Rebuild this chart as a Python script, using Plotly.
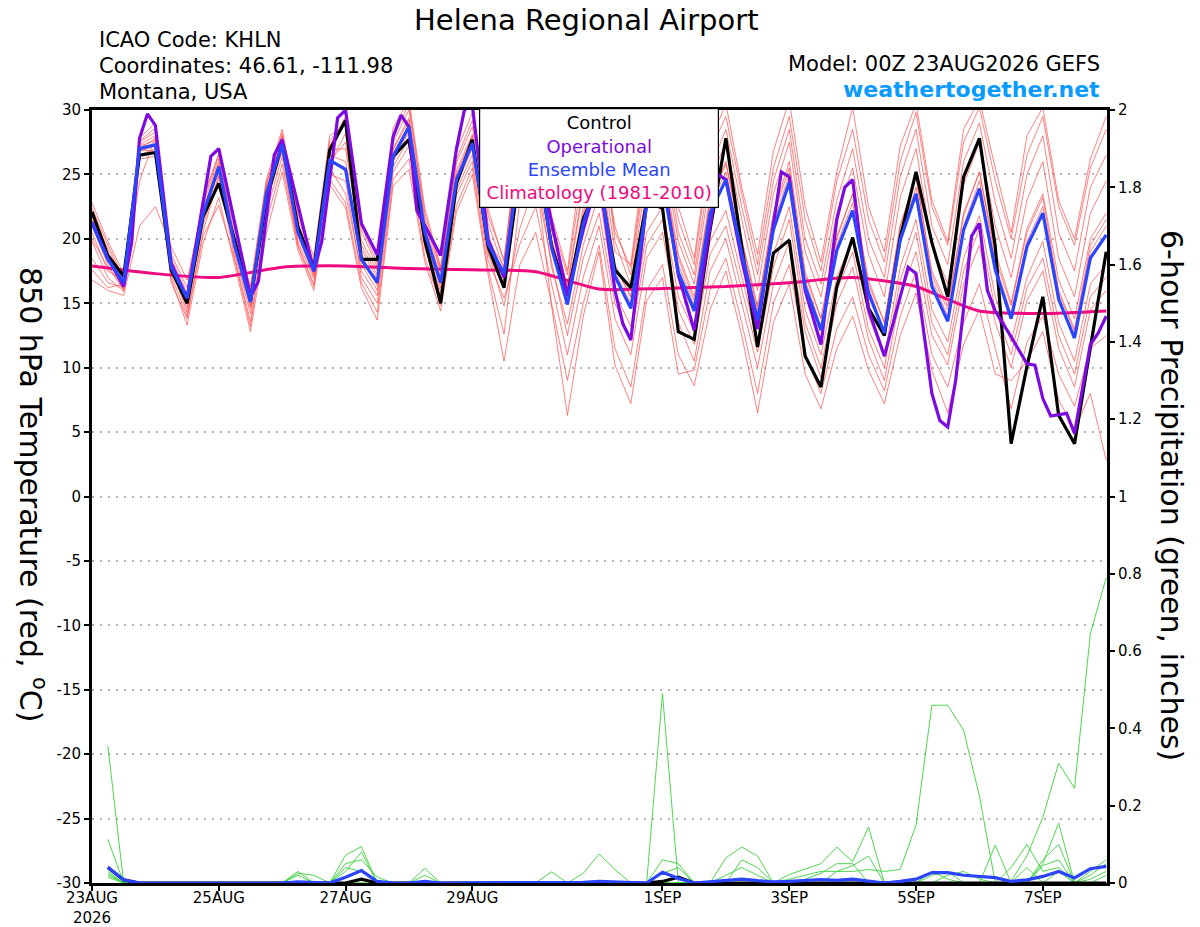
import plotly.graph_objects as go
import pandas as pd

# ---------------- data ----------------
start_time = "2026-08-23 00:00"
step_hours = [0, 6, 12, 18, 24, 30, 36, 42, 48, 54, 60, 66, 72, 78, 84, 90, 96, 102, 108, 114,
              120, 126, 132, 138, 144, 150, 156, 162, 168, 174, 180, 186, 192, 198, 204, 210,
              216, 222, 228, 234, 240, 246, 252, 258, 264, 270, 276, 282, 288, 294, 300, 306,
              312, 318, 324, 330, 336, 342, 348, 354, 360, 366, 372, 378, 384]

control_temp = [22.1, 18.7, 17.1, 26.5, 26.7, 17.6, 15.0, 21.7, 24.3, 19.9,
                15.2, 23.0, 27.4, 20.9, 17.7, 26.9, 29.2, 18.4, 18.4, 26.4,
                27.7, 19.9, 15.0, 24.3, 27.7, 19.4, 16.2, 25.5, 27.0, 19.4,
                15.6, 21.5, 24.5, 17.6, 16.2, 22.8, 22.4, 12.8, 12.2, 20.7,
                27.8, 19.4, 11.6, 18.9, 19.9, 10.9, 8.5, 16.3, 20.1, 14.6,
                12.5, 20.1, 25.2, 19.7, 15.5, 24.8, 27.8, 19.4, 4.1, 10.1,
                15.5, 6.3, 4.1, 11.4, 19.0]

mean_temp = [21.2, 18.4, 16.6, 27.0, 27.3, 17.8, 15.4, 21.9, 25.6, 19.5,
             15.1, 23.5, 27.3, 20.5, 17.5, 26.1, 25.4, 18.4, 16.6, 26.4,
             28.7, 20.5, 16.6, 24.6, 27.4, 19.6, 17.3, 26.0, 27.5, 19.3,
             14.9, 21.2, 25.0, 17.1, 14.6, 22.6, 24.5, 17.4, 14.4, 22.0,
             24.6, 18.9, 13.7, 20.7, 24.4, 16.3, 12.9, 19.1, 22.2, 15.8,
             12.7, 19.9, 23.5, 16.3, 13.6, 20.7, 23.9, 17.6, 13.8, 19.4,
             22.0, 15.3, 12.3, 18.5, 20.3]

op_hours = [0, 6, 12, 15, 18, 21, 24, 30, 36, 45, 48, 60, 63, 69, 72, 84, 87, 93, 96, 102,
            108, 114, 117, 120, 123, 132, 138, 141, 144, 150, 156, 162, 168, 174, 180, 186,
            192, 198, 201, 204, 210, 216, 222, 228, 237, 240, 246, 252, 261, 264, 270, 276,
            282, 285, 288, 294, 300, 309, 312, 318, 321, 324, 327, 333, 336, 339, 342, 348,
            351, 354, 357, 360, 363, 369, 372, 378, 381, 384]
op_temp = [21.3, 18.5, 16.3, 19.7, 27.8, 29.7, 28.8, 18.1, 15.4, 26.4, 27.0, 15.5, 16.7, 26.5,
           27.7, 17.5, 19.8, 29.4, 30.0, 21.2, 18.75, 27.9, 29.6, 28.7, 22.2, 18.7, 27.0, 30.0,
           30.4, 19.9, 17.0, 26.5, 27.0, 21.2, 15.6, 20.7, 25.0, 16.0, 13.4, 12.15, 22.8, 25.0,
           17.2, 12.9, 25.0, 24.6, 18.4, 13.0, 25.2, 24.8, 16.0, 11.8, 21.5, 24.0, 24.6, 14.5,
           10.9, 17.8, 17.3, 8.0, 5.9, 5.4, 9.0, 20.2, 21.2, 16.0, 14.4, 12.4, 11.4, 10.3, 10.2,
           7.6, 6.25, 6.45, 4.9, 11.8, 12.7, 14.0]

clim_hours = [0, 24, 48, 72, 96, 120, 144, 168, 192, 216, 240, 264, 288, 312, 324, 336, 360, 384]
clim_temp = [17.9, 17.3, 17.0, 17.8, 17.9, 17.7, 17.6, 17.45, 16.1, 16.15, 16.3, 16.6, 17.0,
             16.3, 15.3, 14.4, 14.2, 14.4]

# ensemble members: one row per 6-hour step, one column per member
member_rows = [
    [22.8, 22.0, 21.5, 21.0, 20.5, 19.8, 18.5, 17.6, 16.8, 22.4, 20.0, 21.8],
    [19.8, 19.2, 18.6, 18.0, 17.5, 17.0, 16.6, 16.2, 16.0, 19.5, 17.8, 18.8],
    [17.3, 16.9, 16.4, 16.0, 16.8, 15.9, 16.2, 16.5, 15.6, 17.0, 16.1, 16.7],
    [27.6, 27.3, 27.0, 26.8, 27.5, 26.5, 27.2, 26.2, 21.0, 27.8, 26.9, 24.5],
    [28.6, 28.0, 27.8, 27.2, 28.3, 27.0, 27.6, 26.4, 22.5, 29.0, 26.8, 27.9],
    [18.5, 17.6, 18.0, 17.2, 18.8, 16.9, 17.4, 17.9, 19.4, 18.2, 16.6, 17.7],
    [15.8, 14.9, 15.2, 14.0, 16.2, 13.3, 15.0, 14.6, 16.8, 15.5, 13.8, 14.3],
    [22.6, 21.4, 22.2, 20.5, 22.9, 19.6, 21.8, 21.0, 22.4, 23.2, 20.2, 21.5],
    [26.2, 25.5, 25.9, 24.8, 26.5, 23.2, 25.7, 24.9, 25.1, 26.6, 22.6, 25.3],
    [20.3, 19.2, 19.8, 18.5, 20.8, 18.1, 19.6, 18.9, 20.1, 19.9, 18.4, 19.4],
    [15.8, 14.6, 15.4, 13.6, 16.3, 12.8, 15.0, 14.2, 15.6, 16.1, 13.2, 14.8],
    [24.3, 23.0, 23.8, 22.1, 24.6, 20.4, 23.6, 22.8, 24.0, 24.2, 21.3, 23.2],
    [28.2, 27.1, 27.6, 26.4, 28.5, 25.2, 27.4, 26.8, 27.9, 28.0, 25.8, 27.0],
    [21.6, 20.2, 20.9, 19.5, 21.9, 19.1, 20.6, 19.8, 21.2, 21.0, 19.4, 20.4],
    [18.2, 17.1, 17.8, 16.5, 18.6, 16.0, 17.4, 16.9, 18.0, 17.6, 16.3, 17.2],
    [27.2, 25.8, 26.9, 25.0, 28.0, 24.2, 26.5, 25.5, 27.6, 26.2, 24.6, 26.0],
    [29.5, 28.2, 27.0, 24.5, 28.8, 22.4, 26.0, 23.5, 29.0, 25.2, 22.8, 27.5],
    [20.6, 18.8, 19.5, 17.0, 21.0, 16.2, 18.4, 17.5, 19.9, 18.0, 16.6, 19.2],
    [17.8, 16.4, 17.2, 15.0, 18.1, 13.7, 16.8, 15.6, 17.5, 16.0, 14.3, 16.9],
    [27.8, 26.2, 27.0, 25.2, 28.6, 24.1, 26.6, 25.6, 27.5, 26.0, 24.6, 26.9],
    [30.5, 28.6, 29.4, 27.2, 30.8, 25.4, 28.9, 27.8, 30.0, 28.3, 26.2, 29.2],
    [22.0, 20.3, 21.2, 19.3, 22.4, 18.2, 20.7, 19.6, 21.6, 20.0, 18.6, 20.9],
    [17.6, 16.5, 17.0, 15.5, 17.8, 14.4, 16.8, 15.9, 17.4, 16.2, 14.9, 16.7],
    [26.2, 24.5, 25.3, 23.4, 26.8, 22.1, 24.8, 23.8, 25.9, 24.2, 22.6, 25.0],
    [29.2, 27.2, 28.1, 26.0, 29.8, 25.0, 27.6, 26.5, 28.7, 27.0, 25.5, 28.0],
    [21.8, 19.5, 20.4, 18.3, 22.3, 17.2, 19.8, 18.8, 21.2, 19.0, 17.6, 20.0],
    [18.4, 17.5, 16.8, 15.4, 18.2, 10.5, 17.9, 16.2, 17.6, 14.8, 12.6, 17.0],
    [28.5, 27.0, 26.2, 19.6, 29.0, 18.0, 27.5, 24.5, 28.0, 20.8, 23.0, 26.8],
    [29.8, 28.4, 27.6, 22.5, 30.2, 20.5, 28.9, 26.0, 29.2, 24.5, 25.2, 28.0],
    [21.3, 20.0, 19.5, 16.5, 21.8, 15.0, 20.6, 17.8, 20.8, 18.2, 14.8, 19.9],
    [17.2, 15.5, 15.0, 11.0, 17.5, 9.0, 16.2, 13.4, 16.4, 12.5, 6.3, 15.8],
    [25.5, 22.5, 21.8, 17.0, 27.0, 15.0, 23.8, 19.5, 24.2, 18.5, 14.0, 22.0],
    [29.0, 26.5, 25.5, 21.0, 30.5, 19.5, 27.5, 23.5, 28.0, 22.0, 19.0, 26.0],
    [20.5, 18.0, 17.4, 13.8, 19.8, 11.5, 19.0, 15.8, 21.0, 15.0, 10.2, 17.8],
    [17.8, 15.5, 15.0, 11.0, 16.4, 8.5, 18.0, 13.2, 17.2, 12.3, 7.2, 15.5],
    [26.5, 23.8, 23.0, 18.5, 25.0, 16.0, 27.8, 20.5, 26.0, 19.5, 15.2, 23.5],
    [28.5, 26.0, 25.2, 20.5, 27.0, 18.0, 30.0, 22.5, 28.0, 21.5, 17.0, 25.5],
    [21.5, 18.8, 18.0, 13.5, 19.8, 11.0, 22.5, 15.5, 20.5, 14.5, 9.5, 18.5],
    [18.0, 15.5, 14.8, 10.5, 16.5, 8.6, 18.5, 12.8, 17.2, 11.8, 9.8, 15.2],
    [26.8, 23.2, 22.5, 17.5, 24.5, 14.5, 27.5, 19.8, 25.5, 18.8, 16.0, 23.0],
    [29.5, 26.0, 25.2, 20.0, 27.5, 17.5, 30.5, 22.2, 28.5, 21.0, 18.5, 25.8],
    [23.5, 20.0, 19.4, 15.0, 21.5, 12.5, 24.0, 17.0, 22.5, 16.0, 13.5, 19.8],
    [18.0, 14.8, 14.2, 10.0, 16.0, 6.5, 18.8, 12.0, 17.2, 11.2, 8.0, 14.5],
    [25.5, 22.0, 21.2, 16.5, 23.5, 13.5, 26.8, 18.8, 24.5, 17.8, 15.0, 21.8],
    [29.5, 26.0, 25.0, 19.8, 27.5, 16.5, 30.8, 22.5, 28.5, 21.5, 18.0, 25.5],
    [21.5, 17.5, 16.8, 12.8, 19.0, 9.5, 22.5, 14.5, 20.0, 13.5, 11.0, 17.2],
    [17.5, 13.8, 13.2, 9.2, 15.5, 6.8, 18.2, 11.0, 16.5, 10.0, 8.0, 13.8],
    [24.5, 20.2, 19.5, 15.0, 22.0, 11.5, 25.2, 17.0, 23.0, 16.0, 13.0, 20.0],
    [28.5, 23.5, 22.8, 17.8, 25.5, 14.0, 30.2, 20.0, 27.0, 19.0, 15.5, 23.5],
    [21.5, 16.8, 16.2, 12.2, 18.8, 9.8, 22.5, 14.0, 20.0, 13.0, 11.0, 16.5],
    [18.2, 13.5, 12.8, 9.0, 15.5, 7.2, 19.0, 10.8, 17.0, 10.0, 8.2, 13.5],
    [26.0, 21.0, 20.2, 15.5, 23.2, 12.5, 27.2, 17.8, 24.8, 16.8, 14.0, 21.0],
    [29.8, 24.8, 24.0, 19.0, 27.0, 15.8, 30.5, 21.5, 28.5, 20.5, 17.5, 24.8],
    [22.5, 17.2, 16.8, 12.5, 19.5, 9.8, 23.0, 14.5, 21.0, 13.5, 11.0, 17.5],
    [19.5, 14.5, 14.0, 10.2, 16.5, 6.5, 19.8, 12.0, 18.0, 11.0, 8.5, 14.8],
    [27.5, 21.8, 21.0, 16.5, 24.2, 11.8, 28.5, 18.5, 26.0, 17.5, 13.5, 22.0],
    [30.2, 25.2, 24.5, 19.5, 27.5, 14.5, 30.8, 21.8, 29.0, 20.8, 16.5, 25.2],
    [24.5, 18.5, 18.0, 13.5, 21.0, 9.5, 25.5, 15.5, 22.8, 14.5, 11.5, 19.0],
    [20.0, 14.8, 14.2, 10.0, 17.0, 9.0, 20.5, 12.0, 18.5, 11.0, 6.8, 15.0],
    [26.5, 20.5, 19.8, 15.2, 23.0, 10.5, 28.0, 17.0, 25.0, 16.2, 12.0, 20.8],
    [29.5, 23.2, 22.5, 17.5, 26.0, 12.8, 30.2, 19.8, 28.0, 18.5, 14.0, 23.5],
    [22.5, 16.0, 15.8, 11.5, 18.5, 7.5, 23.0, 13.5, 20.5, 12.5, 9.5, 16.8],
    [19.5, 13.0, 12.8, 8.5, 15.5, 5.2, 20.0, 10.5, 17.5, 9.5, 7.0, 13.8],
    [25.5, 19.5, 19.0, 14.5, 22.0, 8.0, 26.2, 16.5, 24.0, 15.5, 11.5, 20.0],
    [28.5, 21.5, 21.0, 16.0, 24.5, 2.8, 29.5, 18.0, 26.5, 17.0, 12.5, 22.0],
]

# 6-hour precipitation (inches), valid at 06Z 23AUG .. 00Z 08SEP
precip_hours = [6, 12, 18, 24, 30, 36, 42, 48, 54, 60, 66, 72, 78, 84, 90, 96, 102, 108, 114,
                120, 126, 132, 138, 144, 150, 156, 162, 168, 174, 180, 186, 192, 198, 204, 210,
                216, 222, 228, 234, 240, 246, 252, 258, 264, 270, 276, 282, 288, 294, 300, 306,
                312, 318, 324, 330, 336, 342, 348, 354, 360, 366, 372, 378, 384]
precip_g1 = [0.354, 0, 0, 0, 0, 0, 0, 0,
             0, 0, 0, 0, 0, 0, 0, 0,
             0, 0, 0, 0, 0, 0, 0, 0,
             0, 0, 0, 0, 0, 0, 0, 0,
             0, 0, 0, 0, 0, 0, 0, 0,
             0, 0, 0, 0, 0, 0, 0.03, 0.03,
             0.035, 0.03, 0.035, 0.15, 0.46, 0.46, 0.395, 0.225,
             0.0, 0.005, 0.07, 0.17, 0.31, 0.245, 0.645, 0.79]
precip_g2 = [0.113, 0, 0, 0, 0, 0, 0, 0,
             0, 0, 0, 0, 0, 0, 0, 0,
             0, 0, 0, 0, 0, 0, 0, 0,
             0, 0, 0, 0, 0, 0, 0, 0,
             0, 0, 0, 0.49, 0.0, 0, 0, 0.065,
             0.093, 0.07, 0, 0, 0, 0, 0, 0,
             0, 0, 0, 0, 0, 0, 0, 0,
             0, 0, 0, 0.05, 0.155, 0.0, 0.03, 0.06]
precip_g3 = [0.03, 0, 0, 0, 0, 0, 0, 0,
             0, 0, 0, 0, 0.03, 0, 0, 0.072,
             0.094, 0.0, 0, 0, 0, 0, 0, 0,
             0, 0, 0, 0, 0.029, 0, 0.025, 0.075,
             0.035, 0, 0, 0.06, 0.05, 0, 0, 0,
             0, 0, 0, 0.022, 0.035, 0.05, 0.093, 0.055,
             0.145, 0, 0, 0, 0, 0, 0, 0,
             0.098, 0, 0, 0.06, 0.1, 0.0, 0.02, 0.05]
precip_g4 = [0.025, 0, 0, 0, 0, 0, 0, 0,
             0, 0, 0, 0, 0.025, 0.02, 0, 0.05,
             0.06, 0.015, 0, 0, 0.038, 0, 0, 0,
             0, 0, 0, 0, 0, 0, 0, 0,
             0, 0, 0, 0, 0, 0, 0, 0.02,
             0.04, 0.02, 0, 0.01, 0.02, 0.03, 0.03, 0.045,
             0.07, 0, 0, 0, 0, 0.02, 0.03, 0.01,
             0, 0.04, 0.1, 0.03, 0.04, 0, 0.01, 0.03]
precip_g5 = [0.02, 0, 0, 0, 0, 0, 0, 0,
             0, 0, 0, 0, 0, 0, 0, 0.04,
             0.03, 0, 0, 0, 0, 0, 0, 0,
             0, 0, 0, 0, 0, 0, 0, 0,
             0, 0, 0, 0.025, 0.04, 0, 0, 0,
             0.06, 0.04, 0, 0, 0.01, 0.025, 0.05, 0.05,
             0, 0, 0, 0, 0.03, 0.01, 0, 0,
             0, 0, 0, 0.045, 0.06, 0, 0, 0.02]
precip_g6 = [0.015, 0, 0, 0, 0, 0, 0, 0,
             0, 0, 0, 0, 0.02, 0, 0, 0.03,
             0.08, 0, 0, 0, 0.02, 0, 0, 0,
             0, 0, 0, 0, 0, 0, 0, 0,
             0, 0, 0, 0, 0, 0, 0, 0,
             0, 0, 0, 0, 0, 0, 0, 0,
             0, 0, 0, 0, 0.02, 0.03, 0, 0,
             0, 0, 0.04, 0, 0.03, 0, 0, 0]
precip_mean = [0.041, 0.008, 0, 0, 0, 0, 0, 0,
               0, 0, 0, 0, 0.003, 0.002, 0, 0.015,
               0.032, 0.004, 0, 0, 0.004, 0, 0, 0,
               0, 0, 0, 0, 0.002, 0, 0.002, 0.004,
               0.002, 0, 0, 0.028, 0.012, 0, 0.004, 0.008,
               0.01, 0.006, 0.003, 0.004, 0.006, 0.009, 0.007, 0.01,
               0.005, 0, 0.004, 0.01, 0.027, 0.027, 0.02, 0.017,
               0.014, 0.004, 0.008, 0.017, 0.03, 0.013, 0.037, 0.043]
precip_control = [0.04, 0.008, 0, 0, 0, 0, 0, 0,
                  0, 0, 0, 0, 0, 0, 0, 0,
                  0.01, 0, 0, 0, 0, 0, 0, 0,
                  0, 0, 0, 0, 0, 0, 0, 0,
                  0, 0, 0, 0.004, 0.015, 0, 0, 0,
                  0, 0, 0, 0, 0, 0, 0, 0,
                  0, 0, 0, 0, 0, 0, 0, 0,
                  0, 0, 0, 0, 0, 0, 0, 0]

x_tick_dates = ["2026-08-23", "2026-08-25", "2026-08-27", "2026-08-29",
                "2026-09-01", "2026-09-03", "2026-09-05", "2026-09-07"]
x_tick_labels = ["23AUG<br>2026", "25AUG", "27AUG", "29AUG", "1SEP", "3SEP", "5SEP", "7SEP"]
y_ticks = [-30, -25, -20, -15, -10, -5, 0, 5, 10, 15, 20, 25, 30]
y2_ticks = [0, 0.2, 0.4, 0.6, 0.8, 1, 1.2, 1.4, 1.6, 1.8, 2]
y2_labels = ["0", "0.2", "0.4", "0.6", "0.8", "1", "1.2", "1.4", "1.6", "1.8", "2"]

# ---------------- figure ----------------
t0 = pd.Timestamp(start_time)


def to_time(hours):
    return [t0 + pd.Timedelta(hours=h) for h in hours]


t6 = to_time(step_hours)
tp = to_time(precip_hours)

RED = "rgba(255,70,70,0.85)"
GREEN = "#3ad13a"
BLACK = "#000000"
PURPLE = "#7d0ae0"
BLUE = "#2b45ff"
MAGENTA = "#ee0a80"
FONT = "DejaVu Sans"

fig = go.Figure()

members = [list(col) for col in zip(*member_rows)]
for m in members:
    fig.add_trace(go.Scatter(x=t6, y=m, mode="lines", line=dict(color=RED, width=0.8),
                             hoverinfo="skip", showlegend=False))

for g in [precip_g1, precip_g2, precip_g3, precip_g4, precip_g5, precip_g6]:
    fig.add_trace(go.Scatter(x=tp, y=g, mode="lines", yaxis="y2",
                             line=dict(color=GREEN, width=0.9), showlegend=False))

fig.add_trace(go.Scatter(x=tp, y=precip_control, mode="lines", yaxis="y2",
                         line=dict(color=BLACK, width=3.2), showlegend=False))
fig.add_trace(go.Scatter(x=tp, y=precip_mean, mode="lines", yaxis="y2",
                         line=dict(color=BLUE, width=3.2), showlegend=False))

fig.add_trace(go.Scatter(x=to_time(clim_hours), y=clim_temp, mode="lines",
                         line=dict(color=MAGENTA, width=3, shape="spline", smoothing=0.6),
                         showlegend=False))
fig.add_trace(go.Scatter(x=t6, y=control_temp, mode="lines",
                         line=dict(color=BLACK, width=3.2), showlegend=False))
fig.add_trace(go.Scatter(x=to_time(op_hours), y=op_temp, mode="lines",
                         line=dict(color=PURPLE, width=3.2), showlegend=False))
fig.add_trace(go.Scatter(x=t6, y=mean_temp, mode="lines",
                         line=dict(color=BLUE, width=3.2), showlegend=False))

# the page body adds an 8px offset, so the figure is laid out in shifted coordinates
OFF = 8
W, H = 1200 - OFF, 927 - OFF
L = 92 - OFF
T = 110 - OFF
R = W - (1107 - OFF)
B = H - (883 - OFF)
pw, ph = W - L - R, H - T - B


def px(x):
    return (x - OFF - L) / pw


def py(y):
    return (H - B - (y - OFF)) / ph


fig.update_layout(
    width=W, height=H, template="none",
    paper_bgcolor="white", plot_bgcolor="white",
    margin=dict(l=L, r=R, t=T, b=B, autoexpand=False),
    font=dict(family=FONT, size=15, color="black"),
    showlegend=False,
    xaxis=dict(
        type="date", range=[t0, t0 + pd.Timedelta(hours=384.3)],
        tickvals=x_tick_dates, ticktext=x_tick_labels,
        showgrid=False, zeroline=False, showline=True, linewidth=3, linecolor="black",
        mirror=True, ticks="outside", ticklen=5, tickwidth=1.5, tickcolor="black",
        tickfont=dict(family=FONT, size=15), automargin=False, ticklabelstandoff=-6,
    ),
    yaxis=dict(
        range=[-30, 30], tickvals=y_ticks, ticktext=[str(v) for v in y_ticks],
        showgrid=True, gridcolor="#b4b4b4", griddash="2px,6px", gridwidth=1.5,
        zeroline=False, showline=True, linewidth=3, linecolor="black",
        ticks="outside", ticklen=5, tickwidth=1.5, tickcolor="black",
        tickfont=dict(family=FONT, size=15), automargin=False,
    ),
    yaxis2=dict(
        range=[0, 2], overlaying="y", side="right", tickvals=y2_ticks, ticktext=y2_labels,
        showgrid=False, zeroline=False, showline=True, linewidth=3, linecolor="black",
        ticks="outside", ticklen=5, tickwidth=1.5, tickcolor="black",
        tickfont=dict(family=FONT, size=15), automargin=False,
    ),
)

ann = []
ann.append(dict(text="Helena Regional Airport", x=px(586), y=py(20), xanchor="center",
                yanchor="middle", font=dict(size=29)))
ann.append(dict(text="ICAO Code: KHLN", x=px(97), y=py(40), xanchor="left", yanchor="middle",
                font=dict(size=21)))
ann.append(dict(text="Coordinates: 46.61, -111.98", x=px(97), y=py(66), xanchor="left",
                yanchor="middle", font=dict(size=21)))
ann.append(dict(text="Montana, USA", x=px(97), y=py(92), xanchor="left", yanchor="middle",
                font=dict(size=21)))
ann.append(dict(text="Model: 00Z 23AUG2026 GEFS", x=px(1102), y=py(64), xanchor="right",
                yanchor="middle", font=dict(size=21)))
ann.append(dict(text="<b>weathertogether.net</b>", x=px(1102), y=py(89), xanchor="right",
                yanchor="middle", font=dict(size=22, color="#0a9bff")))
ann.append(dict(text="850 hPa Temperature (red, <sup>o</sup>C)", x=px(33), y=py(495),
                xanchor="center", yanchor="middle", textangle=90, font=dict(size=30)))
ann.append(dict(text="6-hour Precipitation (green, inches)", x=px(1172), y=py(495),
                xanchor="center", yanchor="middle", textangle=90, font=dict(size=30)))
legend_text = ("<span style='color:#000000'>Control</span><br>"
               f"<span style='color:{PURPLE}'>Operational</span><br>"
               f"<span style='color:{BLUE}'>Ensemble Mean</span><br>"
               f"<span style='color:{MAGENTA}'>Climatology (1981-2010)</span>")
ann.append(dict(text=legend_text, x=px(599), y=py(108), xanchor="center", yanchor="top",
                align="center", bgcolor="white", bordercolor="black", borderwidth=1.2,
                borderpad=3, width=232, font=dict(size=18)))
for a in ann:
    a.update(xref="paper", yref="paper", showarrow=False)
fig.update_layout(annotations=ann)

fig.write_html("out.html")
